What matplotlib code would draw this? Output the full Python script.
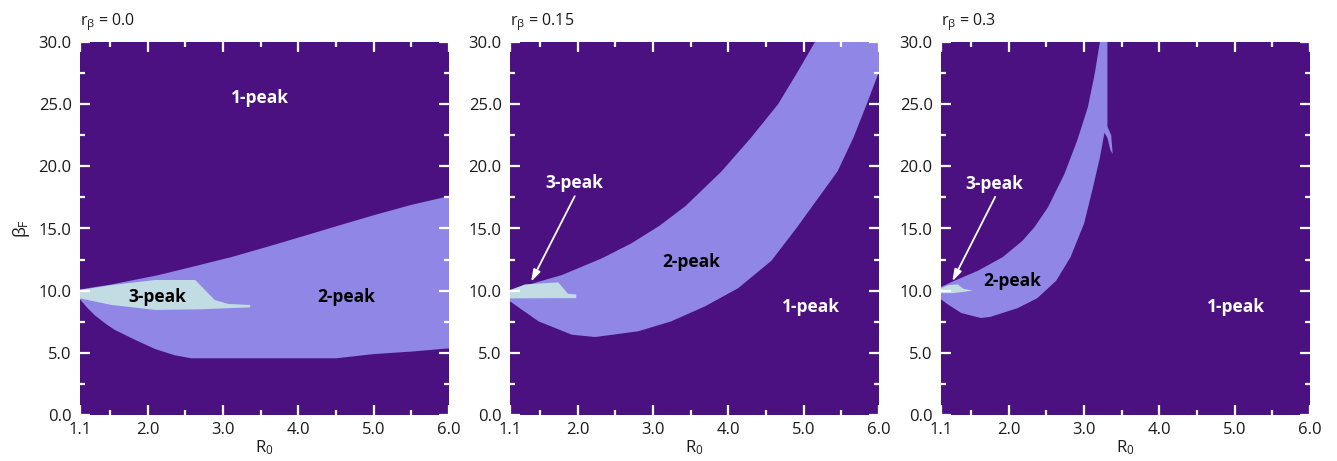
import matplotlib
matplotlib.use("Agg")
import matplotlib.pyplot as plt
from matplotlib.ticker import FixedLocator, FormatStrFormatter

plt.rcParams['font.family'] = ['Open Sans', 'DejaVu Sans']
plt.rcParams['mathtext.fontset'] = 'custom'
plt.rcParams['mathtext.rm'] = 'Open Sans'
plt.rcParams['mathtext.it'] = 'Open Sans'
plt.rcParams['mathtext.bf'] = 'Open Sans:bold'

# colours of the three regimes
C_ONE = '#4b1181'
C_TWO = '#8f86e5'
C_THREE = '#c2dce3'

R_MIN, R_MAX = 1.1, 6.0
B_MIN, B_MAX = 0.0, 30.0

x_major = [1.1, 2.0, 3.0, 4.0, 5.0, 6.0]
x_minor = [1.5, 2.5, 3.5, 4.5, 5.5]
y_major = [0.0, 5.0, 10.0, 15.0, 20.0, 25.0, 30.0]
y_minor = [2.5, 7.5, 12.5, 17.5, 22.5, 27.5]

r_beta = ["0.0", "0.15", "0.3"]

# ---- r_beta = 0.0 : 2-peak region between an upper and a lower boundary
two_upper_R_a = [1.1, 1.52, 2.14, 2.58, 3.11, 3.6, 4.13, 4.57, 5.02, 5.5, 6.0]
two_upper_B_a = [10.1, 10.5, 11.25, 11.9, 12.7, 13.55, 14.5, 15.3, 16.1, 16.9, 17.6]
two_lower_R_a = [1.1, 1.2, 1.3, 1.45, 1.56, 1.83, 2.1, 2.36, 2.58, 4.5, 5.0, 5.5, 6.0]
two_lower_B_a = [9.3, 8.6, 8.0, 7.3, 6.85, 6.05, 5.3, 4.8, 4.56, 4.56, 4.9, 5.1, 5.36]
# 3-peak patch (closed outline)
three_R_a = [1.1, 1.52, 2.1, 2.63, 2.76, 2.89, 3.07, 3.36, 3.36, 2.7, 2.1, 1.52, 1.1]
three_B_a = [10.05, 10.45, 10.86, 10.86, 10.05, 9.25, 8.93, 8.85, 8.66, 8.5, 8.45, 8.85, 9.38]

# ---- r_beta = 0.15 : curved 2-peak band leaving through the top-right corner
two_outer_R_b = [1.1, 1.3, 1.79, 2.32, 2.71, 3.08, 3.43, 3.91, 4.3, 4.66, 4.92, 5.15]
two_outer_B_b = [10.05, 10.4, 11.26, 12.6, 13.8, 15.2, 16.8, 19.6, 22.3, 25.0, 27.6, 30.0]
two_inner_R_b = [1.1, 1.48, 1.92, 2.23, 2.8, 3.24, 3.69, 4.13, 4.57, 4.9, 5.45, 5.66, 5.83, 6.0]
two_inner_B_b = [9.14, 7.53, 6.46, 6.27, 6.73, 7.53, 8.74, 10.2, 12.4, 15.0, 19.6, 22.3, 24.9, 27.6]
three_R_b = [1.1, 1.3, 1.74, 1.87, 1.98, 1.98, 1.1]
three_B_b = [10.05, 10.5, 10.67, 9.75, 9.7, 9.4, 9.38]

# ---- r_beta = 0.3 : narrow band closing into a spike near R0 = 3.3
two_outer_R_c = [1.1, 1.28, 1.59, 1.92, 2.18, 2.34, 2.52, 2.74, 2.91, 3.05, 3.14, 3.21]
two_outer_B_c = [10.3, 10.8, 11.6, 12.7, 14.0, 15.1, 16.7, 19.4, 22.1, 24.75, 27.4, 30.0]
two_spike_R_c = [3.31, 3.31, 3.36, 3.38, 3.35, 3.31]
two_spike_B_c = [30.0, 23.2, 22.5, 21.0, 21.3, 22.3]
two_inner_R_c = [1.1, 1.19, 1.37, 1.63, 1.76, 2.12, 2.38, 2.63, 2.82, 3.0, 3.11, 3.21, 3.27]
two_inner_B_c = [9.3, 8.9, 8.2, 7.8, 7.9, 8.6, 9.4, 10.8, 12.7, 15.4, 18.1, 20.7, 22.7]
three_R_c = [1.1, 1.2, 1.32, 1.4, 1.52, 1.4, 1.25, 1.1]
three_B_c = [10.2, 10.45, 10.5, 10.15, 10.0, 9.9, 9.8, 9.8]

# region labels: (text, R0, beta, colour)
labels_a = [("1-peak", 3.49, 25.5, 'white'),
            ("3-peak", 2.13, 9.5, 'black'),
            ("2-peak", 4.64, 9.5, 'black')]
labels_b = [("2-peak", 3.51, 12.3, 'black'),
            ("1-peak", 5.1, 8.7, 'white')]
labels_c = [("2-peak", 2.04, 10.75, 'black'),
            ("1-peak", 5.01, 8.7, 'white')]

# "3-peak" callouts: text position and arrow tip
callout_b = dict(text_xy=(1.95, 18.65), tail=(1.96, 17.6), tip=(1.38, 10.72))
callout_c = dict(text_xy=(1.81, 18.6), tail=(1.82, 17.55), tip=(1.25, 10.75))

fig = plt.figure(figsize=(13.37, 4.61), dpi=100)
fig.patch.set_facecolor('white')

W, H = 369 / 1337, 373 / 461
BOTTOM = 46 / 461
lefts = [80 / 1337, 510 / 1337, 941 / 1337]
axes = [fig.add_axes([l, BOTTOM, W, H]) for l in lefts]


def style_axis(ax, title):
    ax.set_xlim(R_MIN, R_MAX)
    ax.set_ylim(B_MIN, B_MAX)
    ax.set_facecolor(C_ONE)
    for s in ax.spines.values():
        s.set_visible(False)
    ax.xaxis.set_major_locator(FixedLocator(x_major))
    ax.xaxis.set_minor_locator(FixedLocator(x_minor))
    ax.yaxis.set_major_locator(FixedLocator(y_major))
    ax.yaxis.set_minor_locator(FixedLocator(y_minor))
    ax.xaxis.set_major_formatter(FormatStrFormatter('%.1f'))
    ax.yaxis.set_major_formatter(FormatStrFormatter('%.1f'))
    ax.tick_params(which='both', direction='in', color='white',
                   top=True, right=True, width=1.6, labelsize=12,
                   labelcolor='#1a1a1a')
    ax.tick_params(which='major', length=7)
    ax.tick_params(which='minor', length=3.5)
    ax.tick_params(axis='y', which='major', pad=6)
    ax.tick_params(axis='x', which='major', pad=5)
    ax.set_xlabel(r'R$_0$', fontsize=12, labelpad=0, color='#1a1a1a')
    ax.text(0.0, 1.025, r'r$_\beta$ = ' + title, transform=ax.transAxes,
            ha='left', va='bottom', fontsize=11.5, color='#1a1a1a')


def put_labels(ax, labels):
    for txt, x, y, col in labels:
        ax.text(x, y, txt, ha='center', va='center', fontsize=12.5,
                fontweight='bold', color=col, zorder=5)


def put_callout(ax, c):
    ax.text(*c['text_xy'], "3-peak", ha='center', va='center', fontsize=12.5,
            fontweight='bold', color='white', zorder=5)
    ax.annotate('', xy=c['tip'], xytext=c['tail'],
                arrowprops=dict(arrowstyle='-|>,head_length=0.7,head_width=0.22',
                                color='white', lw=1.3, shrinkA=0, shrinkB=0),
                zorder=6)


# r_beta = 0.0
ax = axes[0]
style_axis(ax, r_beta[0])
ax.fill(two_upper_R_a + two_lower_R_a[::-1], two_upper_B_a + two_lower_B_a[::-1],
        color=C_TWO, lw=0)
ax.fill(three_R_a, three_B_a, color=C_THREE, lw=0)
put_labels(ax, labels_a)
ax.set_ylabel(r'$\beta_F$', fontsize=12.5, labelpad=5, color='#1a1a1a')

# r_beta = 0.15
ax = axes[1]
style_axis(ax, r_beta[1])
ax.fill(two_outer_R_b + [R_MAX] + two_inner_R_b[::-1],
        two_outer_B_b + [B_MAX] + two_inner_B_b[::-1], color=C_TWO, lw=0)
ax.fill(three_R_b, three_B_b, color=C_THREE, lw=0)
put_labels(ax, labels_b)
put_callout(ax, callout_b)

# r_beta = 0.3
ax = axes[2]
style_axis(ax, r_beta[2])
ax.fill(two_outer_R_c + two_spike_R_c + two_inner_R_c[::-1],
        two_outer_B_c + two_spike_B_c + two_inner_B_c[::-1], color=C_TWO, lw=0)
ax.fill(three_R_c, three_B_c, color=C_THREE, lw=0)
put_labels(ax, labels_c)
put_callout(ax, callout_c)

fig.savefig('out.png', dpi=100, facecolor='white')
